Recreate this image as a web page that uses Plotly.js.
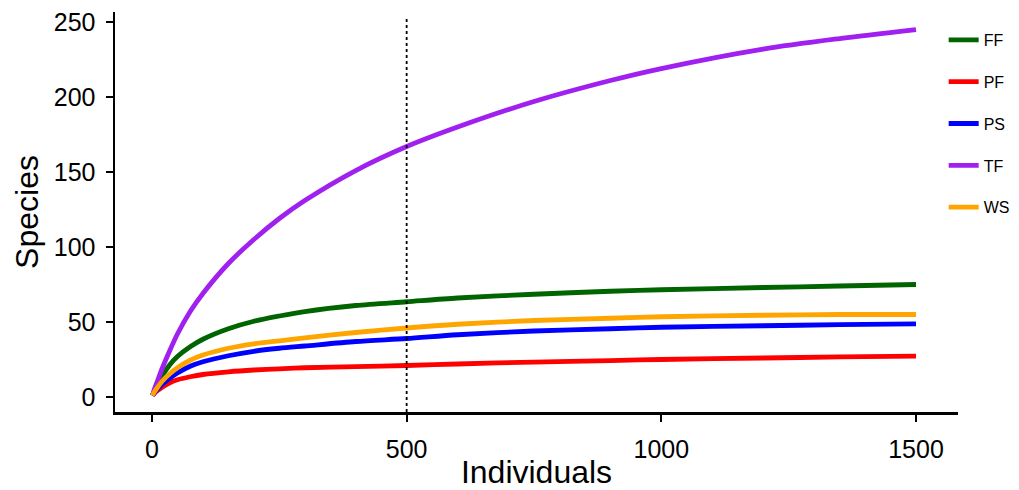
<!DOCTYPE html>
<html>
<head>
<meta charset="utf-8">
<script src="https://cdn.plot.ly/plotly-3.0.1.min.js"></script>
<style>html,body{margin:0;padding:0;background:#fff;}#chart{width:1019px;height:490px;}</style>
</head>
<body>
<div id="chart"></div>
<script>
const individuals = [1, 5, 10, 20, 35, 50, 75, 100, 150, 200, 250, 300, 400, 500, 600, 750, 900, 1000, 1200, 1350, 1500];
const seriesNames = ["FF", "PF", "PS", "TF", "WS"];
const seriesColors = ["#006400", "#FF0000", "#0000FF", "#A020F0", "#FFA500"];
const FF = [1, 4, 7.5, 14, 21.5, 27, 33.5, 38.5, 45.5, 50.5, 54, 57, 61, 63.5, 66, 68.5, 70.5, 71.5, 73, 74, 75];
const PF = [1, 2.5, 4, 6.5, 9.5, 11.5, 13.5, 15, 16.8, 18, 18.8, 19.5, 20.3, 21, 22, 23.3, 24.3, 25, 26, 26.7, 27.3];
const PS = [1, 3, 5, 8.5, 12.5, 16, 20.5, 23.5, 27.5, 30.5, 32.5, 34, 37, 39, 41.5, 44, 45.5, 46.5, 47.5, 48.2, 48.7];
const TF = [1, 5.5, 10, 19, 31, 42, 57, 69, 89, 105, 119, 131, 151, 167, 180, 197, 211, 219, 232, 239, 245];
const WS = [1, 3.5, 6, 10.5, 15.5, 19.5, 24.5, 28, 32.5, 35.5, 37.5, 39.5, 43, 46, 48.5, 51, 52.5, 53.5, 54.5, 55, 55];
const allSeries = [FF, PF, PS, TF, WS];
const cutoff = 500;
const xTicks = [0, 500, 1000, 1500];
const yTicks = [0, 50, 100, 150, 200, 250];

const traces = allSeries.map((ys, i) => ({
  x: individuals, y: ys, type: "scatter", mode: "lines",
  name: seriesNames[i], legendgroup: seriesNames[i],
  line: {color: seriesColors[i], width: 4.8, shape: "spline", smoothing: 0.8}
}));

const layout = {
  width: 1019, height: 490,
  margin: {l: 115, r: 61, t: 12, b: 78, autoexpand: false},
  paper_bgcolor: "#fff", plot_bgcolor: "#fff",
  font: {family: "Liberation Sans, Arial, sans-serif", color: "#000"},
  showlegend: true,
  legend: {x: 0.983, xanchor: "left", y: 0.9725, yanchor: "top", font: {size: 16},
    tracegroupgap: 18, itemwidth: 30, bgcolor: "rgba(0,0,0,0)"},
  xaxis: {
    range: [-72.6, 1582.5], tickvals: xTicks, ticktext: xTicks.map(String),
    showgrid: false, zeroline: false, showline: true, linecolor: "#000", linewidth: 2.5,
    ticks: "outside", ticklen: 7, tickwidth: 2, tickcolor: "#000",
    tickfont: {size: 25}, ticklabelstandoff: 6,
    title: {text: "Individuals", font: {size: 32}, standoff: 4}
  },
  yaxis: {
    range: [-10, 256.7], tickvals: yTicks, ticktext: yTicks.map(String),
    showgrid: false, zeroline: false, showline: true, linecolor: "#000", linewidth: 2.5,
    ticks: "outside", ticklen: 7, tickwidth: 2, tickcolor: "#000",
    tickfont: {size: 25}, ticklabelstandoff: 5,
    title: {text: "Species", font: {size: 32}, standoff: 6}
  },
  shapes: [{type: "line", xref: "x", yref: "y", x0: cutoff, x1: cutoff, y0: -10, y1: 253,
    line: {color: "#000", width: 1.8, dash: "dot"}}]
};
Plotly.newPlot("chart", traces, layout, {displayModeBar: false, staticPlot: true});
</script>
</body>
</html>
